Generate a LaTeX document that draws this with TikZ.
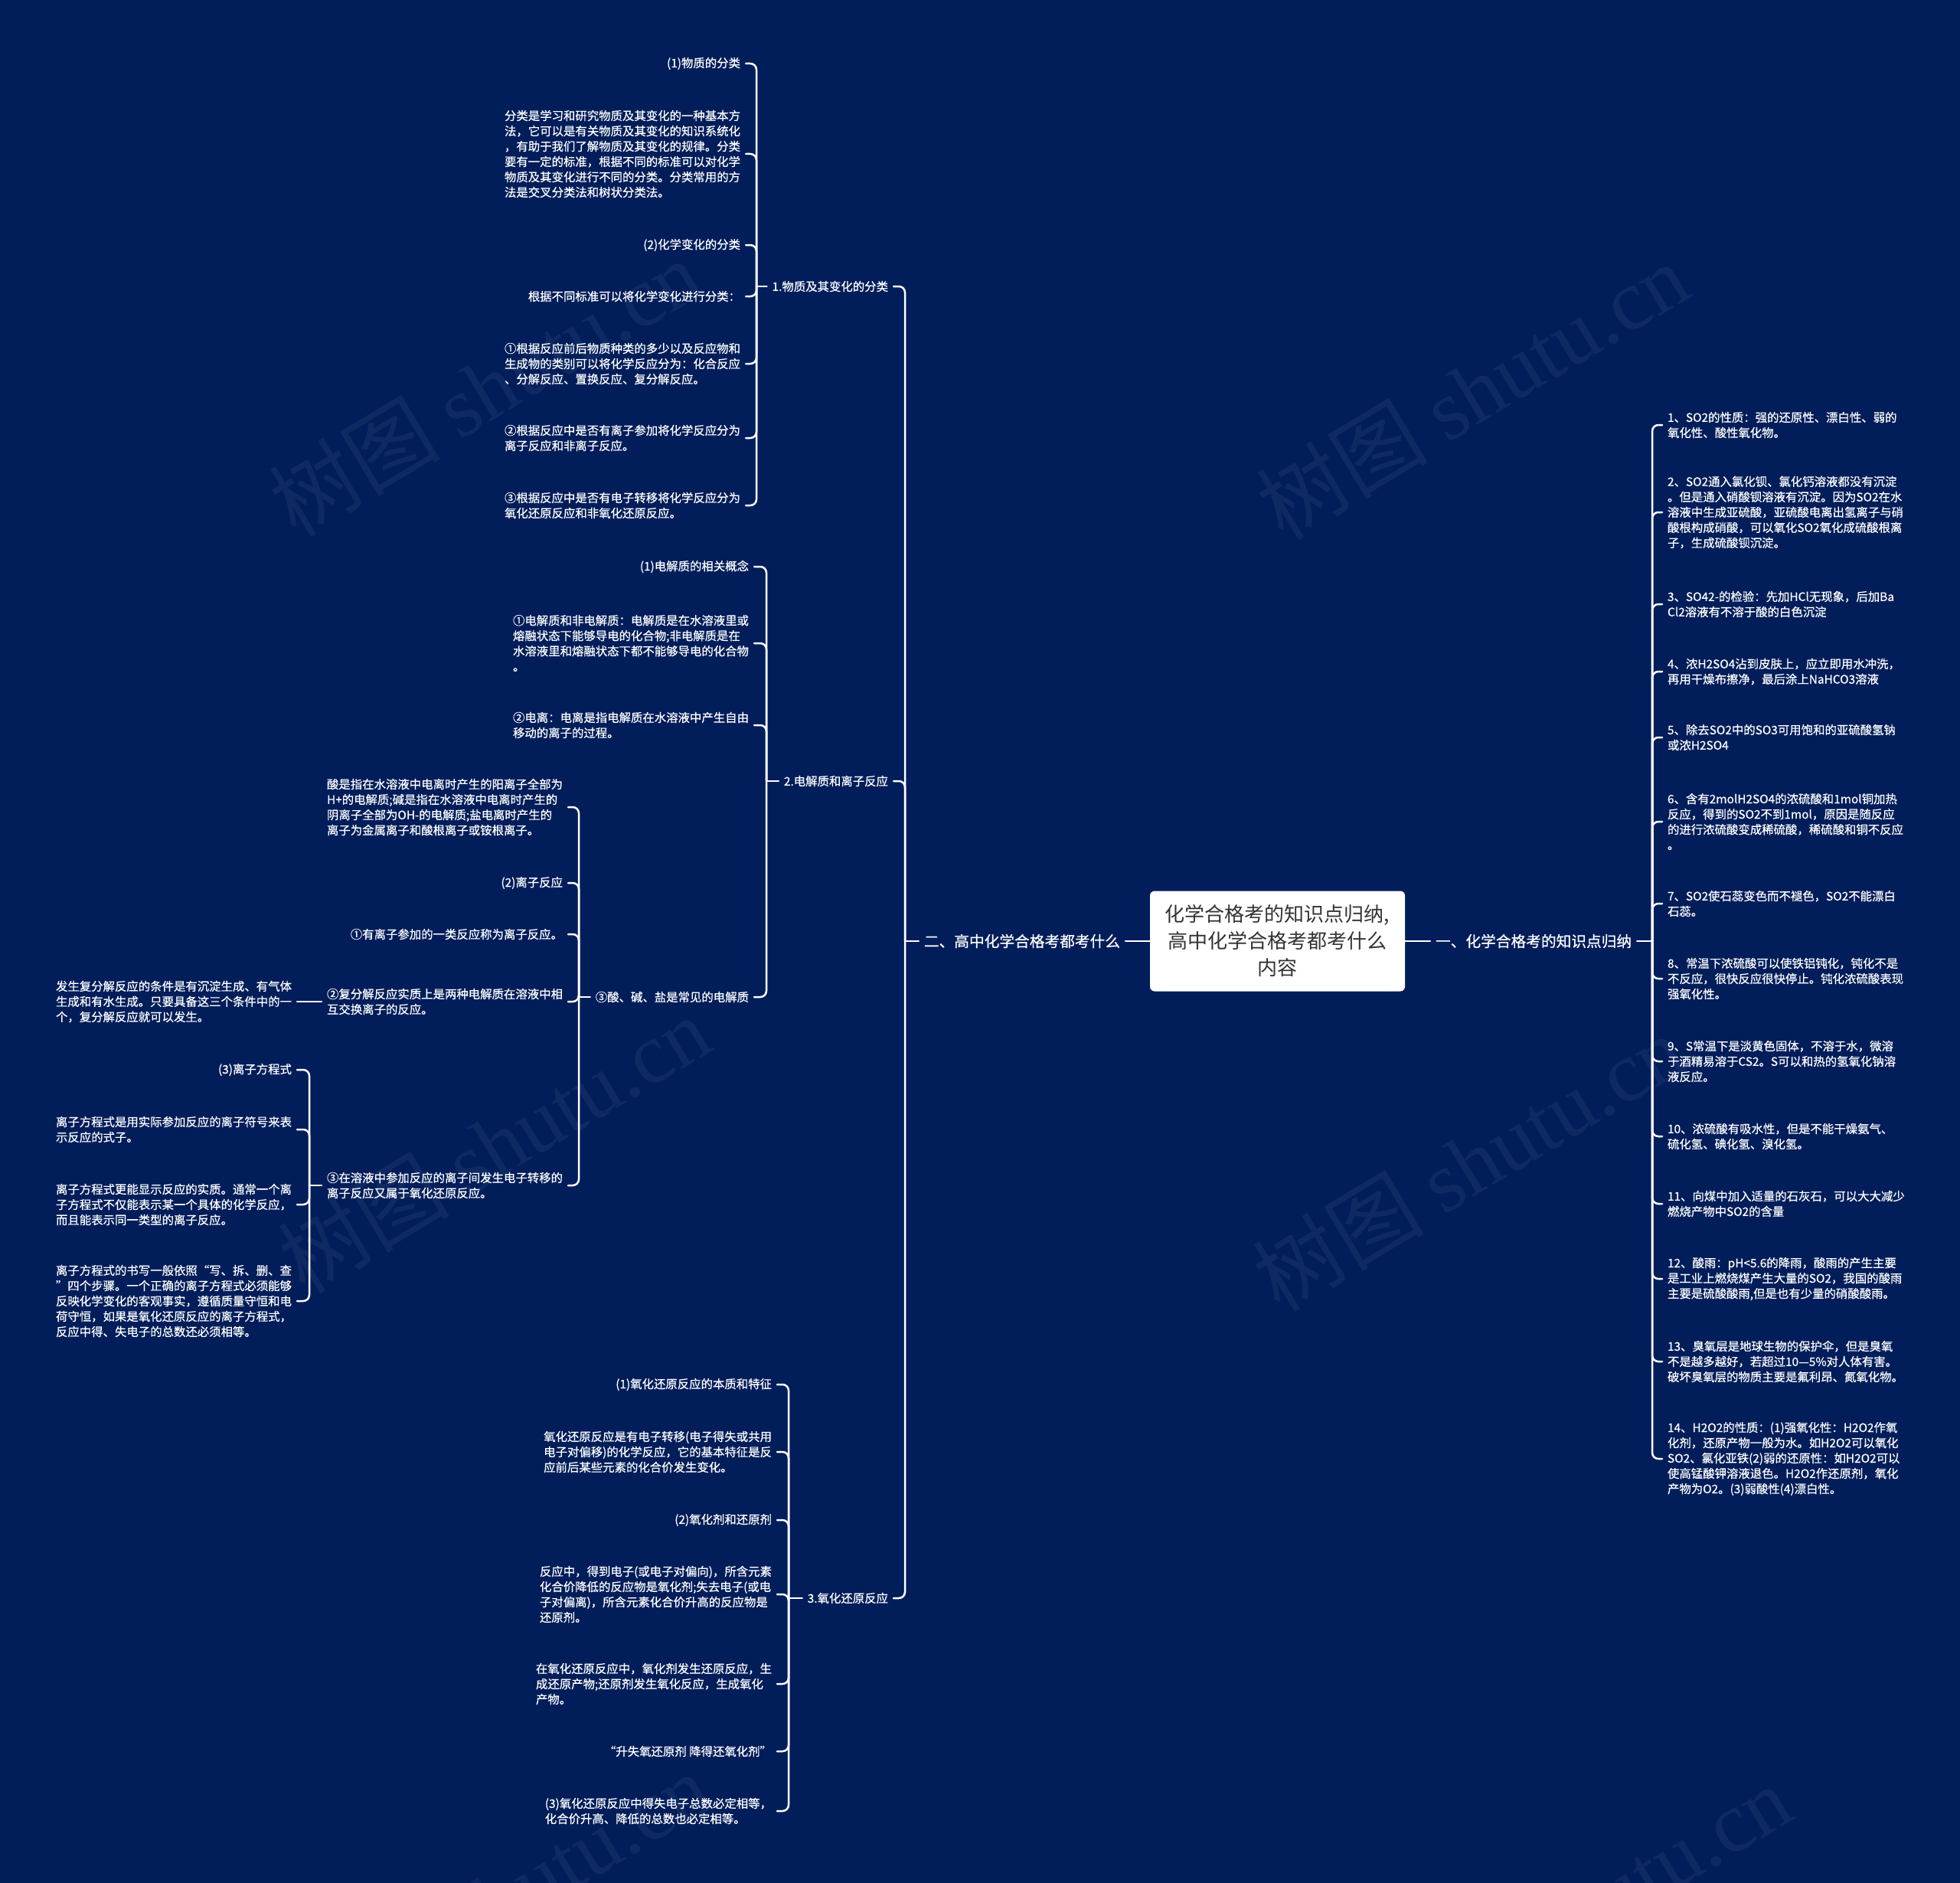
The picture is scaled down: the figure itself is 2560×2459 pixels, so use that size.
\documentclass[tikz,border=0pt]{standalone}
\usepackage{fontspec}
\setmainfont{Noto Sans CJK SC}
\newfontfamily\medfont{Noto Sans CJK SC}[FakeBold=0.5]
\newfontfamily\wmserif{Liberation Serif}
\definecolor{bg}{RGB}{2,30,90}
\definecolor{roottext}{RGB}{51,51,51}
\begin{document}
\begin{tikzpicture}[x=1pt,y=-1pt,
  every node/.style={outer sep=0pt},
  small/.style={text=white,font=\medfont\fontsize{15.4}{20}\selectfont,inner xsep=7pt,inner ysep=2pt,align=left},
  lnode/.style={small,anchor=east},
  rnode/.style={small,anchor=west},
  branch/.style={text=white,font=\medfont\fontsize{19.7}{24}\selectfont,inner xsep=7pt,inner ysep=2pt},
  link/.style={draw=white,line width=2.5pt,rounded corners=8pt,line cap=round},
  stub/.style={draw=white,line width=2.5pt,line cap=round},
  wm/.style={text=white,opacity=0.055,rotate=31,font=\fontsize{112}{120}\selectfont,inner sep=0pt}
]
\fill[bg] (0,0) rectangle (2560,2459);
\useasboundingbox (0,0) rectangle (2560,2459);

% watermarks
\node[wm] (w1) at (633,506) {树图 {\wmserif shutu.cn}};
\node[wm] (w2) at (1923,510) {树图 {\wmserif shutu.cn}};
\node[wm] (w3) at (645,1494) {树图 {\wmserif shutu.cn}};
\node[wm] (w4) at (1918,1518) {树图 {\wmserif shutu.cn}};
\node[wm] (w5) at (645,2482) {树图 {\wmserif shutu.cn}};
\node[wm] (w6) at (2057,2498) {树图 {\wmserif shutu.cn}};

% trunks
\coordinate (tR) at (2158,0);
\coordinate (tL) at (1182,0);
\coordinate (t1) at (988,0);
\coordinate (t2) at (1001,0);
\coordinate (t3) at (756,0);
\coordinate (t5) at (404,0);
\coordinate (t6) at (1030,0);

% root and main branches
\node[fill=white,rounded corners=6pt,minimum width=333pt,minimum height=131pt,text=roottext,align=center,font=\fontsize{26}{35}\selectfont,inner sep=0pt] (root) at (1668.5,1229) {化学合格考的知识点归纳,\\高中化学合格考都考什么\\内容};
\node[branch,anchor=east] (L0) at (1470,1229) {二、高中化学合格考都考什么};
\node[branch,anchor=west] (R0) at (1868,1229) {一、化学合格考的知识点归纳};

% right side items
\node[rnode] (r1) at (2171,555) {1、SO2的性质：强的还原性、漂白性、弱的\\氧化性、酸性氧化物。};
\node[rnode] (r2) at (2171,669) {2、SO2通入氯化钡、氯化钙溶液都没有沉淀\\。但是通入硝酸钡溶液有沉淀。因为SO2在水\\溶液中生成亚硫酸，亚硫酸电离出氢离子与硝\\酸根构成硝酸，可以氧化SO2氧化成硫酸根离\\子，生成硫酸钡沉淀。};
\node[rnode] (r3) at (2171,789) {3、SO42-的检验：先加HCl无现象，后加Ba\\Cl2溶液有不溶于酸的白色沉淀};
\node[rnode] (r4) at (2171,877) {4、浓H2SO4沾到皮肤上，应立即用水冲洗，\\再用干燥布擦净，最后涂上NaHCO3溶液};
\node[rnode] (r5) at (2171,963) {5、除去SO2中的SO3可用饱和的亚硫酸氢钠\\或浓H2SO4};
\node[rnode] (r6) at (2171,1073) {6、含有2molH2SO4的浓硫酸和1mol铜加热\\反应，得到的SO2不到1mol，原因是随反应\\的进行浓硫酸变成稀硫酸，稀硫酸和铜不反应\\。};
\node[rnode] (r7) at (2171,1180) {7、SO2使石蕊变色而不褪色，SO2不能漂白\\石蕊。};
\node[rnode] (r8) at (2171,1278) {8、常温下浓硫酸可以使铁铝钝化，钝化不是\\不反应，很快反应很快停止。钝化浓硫酸表现\\强氧化性。};
\node[rnode] (r9) at (2171,1386) {9、S常温下是淡黄色固体，不溶于水，微溶\\于酒精易溶于CS2。S可以和热的氢氧化钠溶\\液反应。};
\node[rnode] (r10) at (2171,1484) {10、浓硫酸有吸水性，但是不能干燥氨气、\\硫化氢、碘化氢、溴化氢。};
\node[rnode] (r11) at (2171,1572) {11、向煤中加入适量的石灰石，可以大大减少\\燃烧产物中SO2的含量};
\node[rnode] (r12) at (2171,1670) {12、酸雨：pH<5.6的降雨，酸雨的产生主要\\是工业上燃烧煤产生大量的SO2，我国的酸雨\\主要是硫酸酸雨,但是也有少量的硝酸酸雨。};
\node[rnode] (r13) at (2171,1778) {13、臭氧层是地球生物的保护伞，但是臭氧\\不是越多越好，若超过10—5\%对人体有害。\\破坏臭氧层的物质主要是氟利昂、氮氧化物。};
\node[rnode] (r14) at (2171,1905) {14、H2O2的性质：(1)强氧化性：H2O2作氧\\化剂，还原产物一般为水。如H2O2可以氧化\\SO2、氯化亚铁(2)弱的还原性：如H2O2可以\\使高锰酸钾溶液退色。H2O2作还原剂，氧化\\产物为O2。(3)弱酸性(4)漂白性。};

% left level 1
\node[lnode] (A) at (1167,374) {1.物质及其变化的分类};
\node[lnode] (B) at (1167,1020) {2.电解质和离子反应};
\node[lnode] (C) at (1167,2087) {3.氧化还原反应};

% group 1
\node[lnode] (a1) at (974,83) {(1)物质的分类};
\node[lnode] (a2) at (974,201) {分类是学习和研究物质及其变化的一种基本方\\法，它可以是有关物质及其变化的知识系统化\\，有助于我们了解物质及其变化的规律。分类\\要有一定的标准，根据不同的标准可以对化学\\物质及其变化进行不同的分类。分类常用的方\\法是交叉分类法和树状分类法。};
\node[lnode] (a3) at (974,320) {(2)化学变化的分类};
\node[lnode] (a4) at (974,387) {根据不同标准可以将化学变化进行分类：};
\node[lnode] (a5) at (974,475) {①根据反应前后物质种类的多少以及反应物和\\生成物的类别可以将化学反应分为：化合反应\\、分解反应、置换反应、复分解反应。};
\node[lnode] (a6) at (974,572) {②根据反应中是否有离子参加将化学反应分为\\离子反应和非离子反应。};
\node[lnode] (a7) at (974,660) {③根据反应中是否有电子转移将化学反应分为\\氧化还原反应和非氧化还原反应。};

% group 2
\node[lnode] (b1) at (985,740) {(1)电解质的相关概念};
\node[lnode] (b2) at (985,840) {①电解质和非电解质：电解质是在水溶液里或\\熔融状态下能够导电的化合物;非电解质是在\\水溶液里和熔融状态下都不能够导电的化合物\\。};
\node[lnode] (b3) at (985,947) {②电离：电离是指电解质在水溶液中产生自由\\移动的离子的过程。};
\node[lnode] (b4) at (985,1302) {③酸、碱、盐是常见的电解质};

% group 3
\node[lnode] (c1) at (742,1054) {酸是指在水溶液中电离时产生的阳离子全部为\\H+的电解质;碱是指在水溶液中电离时产生的\\阴离子全部为OH-的电解质;盐电离时产生的\\离子为金属离子和酸根离子或铵根离子。};
\node[lnode] (c2) at (742,1153) {(2)离子反应};
\node[lnode] (c3) at (742,1220) {①有离子参加的一类反应称为离子反应。};
\node[lnode] (c4) at (742,1308) {②复分解反应实质上是两种电解质在溶液中相\\互交换离子的反应。};
\node[lnode] (c5) at (742,1548) {③在溶液中参加反应的离子间发生电子转移的\\离子反应又属于氧化还原反应。};

% group 4
\node[lnode] (d1) at (388,1308) {发生复分解反应的条件是有沉淀生成、有气体\\生成和有水生成。只要具备这三个条件中的一\\个，复分解反应就可以发生。};

% group 5
\node[lnode] (e1) at (388,1397) {(3)离子方程式};
\node[lnode] (e2) at (388,1475) {离子方程式是用实际参加反应的离子符号来表\\示反应的式子。};
\node[lnode] (e3) at (388,1573) {离子方程式更能显示反应的实质。通常一个离\\子方程式不仅能表示某一个具体的化学反应，\\而且能表示同一类型的离子反应。};
\node[lnode] (e4) at (388,1699) {离子方程式的书写一般依照“写、拆、删、查\\”四个步骤。一个正确的离子方程式必须能够\\反映化学变化的客观事实，遵循质量守恒和电\\荷守恒，如果是氧化还原反应的离子方程式，\\反应中得、失电子的总数还必须相等。};

% group 6
\node[lnode] (f1) at (1015,1808) {(1)氧化还原反应的本质和特征};
\node[lnode] (f2) at (1015,1896) {氧化还原反应是有电子转移(电子得失或共用\\电子对偏移)的化学反应，它的基本特征是反\\应前后某些元素的化合价发生变化。};
\node[lnode] (f3) at (1015,1985) {(2)氧化剂和还原剂};
\node[lnode] (f4) at (1015,2082) {反应中，得到电子(或电子对偏向)，所含元素\\化合价降低的反应物是氧化剂;失去电子(或电\\子对偏离)，所含元素化合价升高的反应物是\\还原剂。};
\node[lnode] (f5) at (1015,2199) {在氧化还原反应中，氧化剂发生还原反应，生\\成还原产物;还原剂发生氧化反应，生成氧化\\产物。};
\node[lnode] (f6) at (1015,2287) {“升失氧还原剂 降得还氧化剂”};
\node[lnode] (f7) at (1015,2365) {(3)氧化还原反应中得失电子总数必定相等，\\化合价升高、降低的总数也必定相等。};

% connectors
\draw[stub] (root.east) -- (R0.west);
\draw[stub] (root.west) -- (L0.east);
\draw[stub] (R0.east) -- (tR |- R0.east);
\foreach \i in {1,...,14} \draw[link] (tR |- R0.east) -- (tR |- r\i.west) -- (r\i.west);

\draw[stub] (L0.west) -- (tL |- L0.west);
\foreach \c in {A,B,C} \draw[link] (tL |- L0.west) -- (tL |- \c.east) -- (\c.east);

\draw[stub] (A.west) -- (t1 |- A.west);
\foreach \c in {a1,a2,a3,a4,a5,a6,a7} \draw[link] (t1 |- A.west) -- (t1 |- \c.east) -- (\c.east);

\draw[stub] (B.west) -- (t2 |- B.west);
\foreach \c in {b1,b2,b3,b4} \draw[link] (t2 |- B.west) -- (t2 |- \c.east) -- (\c.east);

\draw[stub] (b4.west) -- (t3 |- b4.west);
\foreach \c in {c1,c2,c3,c4,c5} \draw[link] (t3 |- b4.west) -- (t3 |- \c.east) -- (\c.east);

\draw[stub] (c4.west) -- (d1.east);

\draw[stub] (c5.west) -- (t5 |- c5.west);
\foreach \c in {e1,e2,e3,e4} \draw[link] (t5 |- c5.west) -- (t5 |- \c.east) -- (\c.east);

\draw[stub] (C.west) -- (t6 |- C.west);
\foreach \c in {f1,f2,f3,f4,f5,f6,f7} \draw[link] (t6 |- C.west) -- (t6 |- \c.east) -- (\c.east);
\end{tikzpicture}
\end{document}
